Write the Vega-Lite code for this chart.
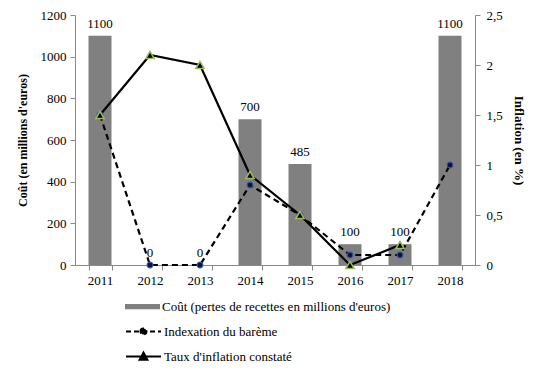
{
  "$schema": "https://vega.github.io/schema/vega-lite/v6.json",
  "width": 400,
  "height": 250,
  "autosize": {"type": "none"},
  "padding": {"left": 75, "top": 15, "right": 67, "bottom": 113},
  "background": "white",
  "config": {
    "view": {"stroke": null},
    "font": "Liberation Serif",
    "axis": {
      "domainColor": "#8a8a8a",
      "tickColor": "#8a8a8a",
      "tickSize": 5,
      "labelFont": "Liberation Serif",
      "labelFontSize": 13,
      "labelColor": "black",
      "titleFont": "Liberation Serif",
      "titleFontSize": 13,
      "titleFontWeight": "bold",
      "titleColor": "black",
      "grid": false
    },
    "legend": {
      "labelFont": "Liberation Serif",
      "labelFontSize": 13,
      "labelColor": "black",
      "labelOffset": 2,
      "labelLimit": 0
    }
  },
  "data": {
    "values": [
      {"annee": "2011", "cout": 1100, "indexation": 1.5, "inflation": 1.5},
      {"annee": "2012", "cout": 0, "indexation": 0, "inflation": 2.1},
      {"annee": "2013", "cout": 0, "indexation": 0, "inflation": 2.0},
      {"annee": "2014", "cout": 700, "indexation": 0.8, "inflation": 0.9},
      {"annee": "2015", "cout": 485, "indexation": 0.5, "inflation": 0.5},
      {"annee": "2016", "cout": 100, "indexation": 0.1, "inflation": 0.0},
      {"annee": "2017", "cout": 100, "indexation": 0.1, "inflation": 0.2},
      {"annee": "2018", "cout": 1100, "indexation": 1.0, "inflation": null}
    ]
  },
  "encoding": {
    "x": {
      "field": "annee",
      "type": "ordinal",
      "scale": {"paddingInner": 0.54, "paddingOuter": 0.27},
      "axis": {"title": null, "labelAngle": 0, "tickBand": "extent", "labelPadding": 4}
    }
  },
  "layer": [
    {
      "mark": {"type": "bar", "color": "#7f7f7f"},
      "encoding": {
        "y": {
          "field": "cout",
          "type": "quantitative",
          "scale": {"domain": [0, 1200], "nice": false},
          "axis": {
            "orient": "left",
            "title": "Coût (en millions d'euros)",
            "titleFont": "Liberation Serif",
            "titleFontSize": 12,
            "values": [0, 200, 400, 600, 800, 1000, 1200],
            "format": "d",
            "labelPadding": 4,
            "titlePadding": 11
          }
        },
        "color": {
          "datum": "Coût (pertes de recettes en millions d'euros)",
          "scale": {"range": ["#808080"]},
          "legend": {
            "orient": "none",
            "legendX": 50,
            "legendY": 274,
            "title": null,
            "symbolType": "M-1,-0.15H1V0.15H-1Z",
            "symbolSize": 1225,
            "symbolStrokeWidth": 0
          }
        }
      }
    },
    {
      "mark": {"type": "text", "baseline": "bottom", "dy": -5, "fontSize": 13, "font": "Liberation Serif", "color": "black"},
      "encoding": {
        "y": {"field": "cout", "type": "quantitative", "scale": {"domain": [0, 1200], "nice": false}, "axis": null},
        "text": {"field": "cout", "type": "quantitative", "format": "d"}
      }
    },
    {
      "mark": {"type": "line", "strokeWidth": 2.2, "strokeDash": [6, 4]},
      "encoding": {
        "y": {
          "field": "indexation",
          "type": "quantitative",
          "scale": {"domain": [0, 2.5], "nice": false},
          "axis": {
            "orient": "right",
            "title": "Inflation (en %)",
            "titleFont": "Liberation Serif",
            "values": [0, 0.5, 1, 1.5, 2, 2.5],
            "labelExpr": "replace(format(datum.value, '~g'), '.', ',')",
            "labelPadding": 6,
            "titlePadding": 9
          }
        },
        "color": {
          "datum": "Indexation du barème",
          "scale": {"range": ["black"]},
          "legend": {
            "orient": "none",
            "legendX": 50,
            "legendY": 298,
            "title": null,
            "symbolType": "M-1,0H1M-0.17,0A0.17,0.17 0 1,1 0.17,0A0.17,0.17 0 1,1 -0.17,0Z",
            "symbolSize": 1225,
            "symbolStrokeWidth": 2,
            "symbolDash": [5, 3],
            "symbolFillColor": "black",
            "symbolStrokeColor": "black"
          }
        }
      }
    },
    {
      "mark": {"type": "line", "strokeWidth": 2.2},
      "encoding": {
        "y": {"field": "inflation", "type": "quantitative", "scale": {"domain": [0, 2.5], "nice": false}, "axis": null},
        "color": {
          "datum": "Taux d'inflation constaté",
          "scale": {"range": ["black"]},
          "legend": {
            "orient": "none",
            "legendX": 50,
            "legendY": 323,
            "title": null,
            "symbolType": "M-1,0H1M-0.22,0.18L0,-0.22L0.22,0.18Z",
            "symbolSize": 1225,
            "symbolStrokeWidth": 2,
            "symbolFillColor": "black",
            "symbolStrokeColor": "black"
          }
        }
      }
    },
    {
      "mark": {"type": "point", "shape": "circle", "filled": true, "size": 32, "fill": "#10103a", "stroke": "#2f5597", "strokeWidth": 1.2, "opacity": 1},
      "encoding": {
        "y": {"field": "indexation", "type": "quantitative", "scale": {"domain": [0, 2.5], "nice": false}, "axis": null}
      }
    },
    {
      "mark": {"type": "point", "shape": "triangle-up", "filled": true, "size": 70, "fill": "black", "stroke": "#9bbb59", "strokeWidth": 1.5, "opacity": 1},
      "encoding": {
        "y": {"field": "inflation", "type": "quantitative", "scale": {"domain": [0, 2.5], "nice": false}, "axis": null}
      }
    }
  ],
  "resolve": {"scale": {"y": "independent", "color": "independent"}, "legend": {"color": "independent"}}
}
